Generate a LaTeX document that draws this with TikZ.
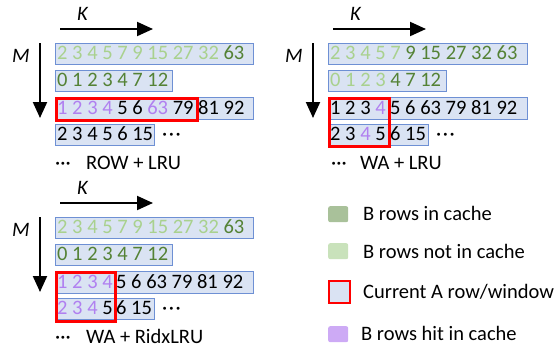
\documentclass[tikz,border=0pt]{standalone}
\usepackage{fontspec}
\setmainfont{Carlito}
\usetikzlibrary{arrows.meta}
\definecolor{dg}{RGB}{84,130,53}
\definecolor{lg}{RGB}{169,209,142}
\definecolor{pu}{RGB}{176,128,240}
\definecolor{boxfill}{RGB}{218,227,243}
\definecolor{boxline}{RGB}{110,144,212}
\definecolor{swdg}{RGB}{169,193,154}
\definecolor{swlg}{RGB}{201,226,187}
\definecolor{swpu}{RGB}{205,170,245}
\newcommand{\Lg}[1]{\textcolor{lg}{#1}}
\newcommand{\Dg}[1]{\textcolor{dg}{#1}}
\newcommand{\Pu}[1]{\textcolor{pu}{#1}}
\newcommand{\rowdots}{\textperiodcentered\kern1.5pt\textperiodcentered\kern1.5pt\textperiodcentered}
\newcommand{\labdots}{\textperiodcentered\textperiodcentered\textperiodcentered}
\tikzset{
  rowbox/.style={draw=boxline, fill=boxfill, line width=1.2pt, inner sep=0, anchor=north west},
  winbox/.style={draw=red, line width=2.7pt, inner sep=0, anchor=north west},
  txt/.style={anchor=base west, inner sep=0},
  axis/.style={line width=2pt, -{Triangle[length=16pt,width=14pt]}},
  swatch/.style={rounded corners=2pt, inner sep=0, anchor=north west, minimum width=20pt, minimum height=16pt}
}
\begin{document}
\begin{tikzpicture}[x=1pt,y=-1pt,font=\fontsize{20.5}{24}\selectfont]
\useasboundingbox (0,0) rectangle (558,349);

% ---------- Panel 1: ROW + LRU ----------
\node[txt,font=\fontsize{20.5}{24}\selectfont\itshape] (k1) at (77,20.5) {K};
\node[txt,font=\fontsize{20.5}{24}\selectfont\itshape] (m1) at (12,62.5) {M};
\coordinate (k1s) at (60,29); \coordinate (k1e) at (153,29);
\coordinate (m1s) at (40,43); \coordinate (m1e) at (40,118);
\draw[axis] (k1s) -- (k1e);
\draw[axis] (m1s) -- (m1e);
\node[rowbox,minimum width=198pt,minimum height=21pt] (a1r1) at (55,43) {};
\node[rowbox,minimum width=117pt,minimum height=21pt] (a1r2) at (55,70) {};
\node[rowbox,minimum width=198pt,minimum height=22pt] (a1r3) at (55,97) {};
\node[rowbox,minimum width=99pt,minimum height=21pt] (a1r4) at (55,124) {};
\node[winbox,minimum width=141pt,minimum height=22pt] (w1) at (55,97) {};
\node[txt] (t1r1) at (57,59.8) {\Lg{2 3 4 5 7 9 15 27 32} \Dg{63}};
\node[txt] (t1r2) at (57,86.8) {\Dg{0 1 2 3 4 7 12}};
\node[txt] (t1r3a) at (57,114.3) {\Pu{1 2 3 4} 5 6 \Pu{63} 79};
\node[txt] (t1r3b) at (198,114.3) {81 92};
\node[txt] (t1r4) at (57,140.8) {2 3 4 5 6 15};
\node[txt] (d1r4) at (162,140.8) {\rowdots};
\node[txt] (d1l) at (55,169.5) {\labdots};
\node[txt] (l1) at (86,169.5) {ROW + LRU};

% ---------- Panel 2: WA + LRU ----------
\node[txt,font=\fontsize{20.5}{24}\selectfont\itshape] (k2) at (350,20.5) {K};
\node[txt,font=\fontsize{20.5}{24}\selectfont\itshape] (m2) at (285,62.5) {M};
\coordinate (k2s) at (333,29); \coordinate (k2e) at (426,29);
\coordinate (m2s) at (313,43); \coordinate (m2e) at (313,118);
\draw[axis] (k2s) -- (k2e);
\draw[axis] (m2s) -- (m2e);
\node[rowbox,minimum width=199pt,minimum height=21pt] (a2r1) at (328,43) {};
\node[rowbox,minimum width=118pt,minimum height=21pt] (a2r2) at (328,70) {};
\node[rowbox,minimum width=199pt,minimum height=22pt] (a2r3) at (328,97) {};
\node[rowbox,minimum width=100pt,minimum height=21pt] (a2r4) at (328,124) {};
\node[winbox,minimum width=60pt,minimum height=48pt] (w2) at (328,97) {};
\node[txt] (t2r1) at (330,59.8) {\Lg{2 3 4 5 7} \Dg{9 15 27 32 63}};
\node[txt] (t2r2) at (330,86.8) {\Lg{0 1 2 3} \Dg{4 7 12}};
\node[txt] (t2r3a) at (330,114.3) {1 2 3 \Pu{4}};
\node[txt] (t2r3b) at (390,114.3) {5 6 63 79 81 92};
\node[txt] (t2r4a) at (330,140.8) {2 3 \Pu{4} 5};
\node[txt] (t2r4b) at (390,140.8) {6 15};
\node[txt] (d2r4) at (436,140.8) {\rowdots};
\node[txt] (d2l) at (331,169.5) {\labdots};
\node[txt] (l2) at (360,169.5) {WA + LRU};

% ---------- Panel 3: WA + RidxLRU ----------
\node[txt,font=\fontsize{20.5}{24}\selectfont\itshape] (k3) at (77,194.5) {K};
\node[txt,font=\fontsize{20.5}{24}\selectfont\itshape] (m3) at (12,236.5) {M};
\coordinate (k3s) at (60,203); \coordinate (k3e) at (153,203);
\coordinate (m3s) at (40,217); \coordinate (m3e) at (40,292);
\draw[axis] (k3s) -- (k3e);
\draw[axis] (m3s) -- (m3e);
\node[rowbox,minimum width=198pt,minimum height=21pt] (a3r1) at (55,217) {};
\node[rowbox,minimum width=117pt,minimum height=21pt] (a3r2) at (55,244) {};
\node[rowbox,minimum width=198pt,minimum height=22pt] (a3r3) at (55,271) {};
\node[rowbox,minimum width=99pt,minimum height=21pt] (a3r4) at (55,298) {};
\node[winbox,minimum width=59pt,minimum height=49pt] (w3) at (55,271) {};
\node[txt] (t3r1) at (57,233.8) {\Lg{2 3 4 5 7 9 15 27 32} \Dg{63}};
\node[txt] (t3r2) at (57,260.8) {\Dg{0 1 2 3 4 7 12}};
\node[txt] (t3r3a) at (57,288.3) {\Pu{1 2 3 4}};
\node[txt] (t3r3b) at (116,288.3) {5 6 63 79 81 92};
\node[txt] (t3r4a) at (57,314.8) {\Pu{2 3 4} 5};
\node[txt] (t3r4b) at (116,314.8) {6 15};
\node[txt] (d3r4) at (162,314.8) {\rowdots};
\node[txt] (d3l) at (55,343.5) {\labdots};
\node[txt] (l3) at (86,343.5) {WA + RidxLRU};

% ---------- Legend ----------
\node[swatch,fill=swdg] (s1) at (328,206) {};
\node[swatch,fill=swlg] (s2) at (328,243) {};
\node[swatch,fill=boxfill,draw=red,line width=2pt,rounded corners=0pt,minimum width=21pt,minimum height=22pt] (s3) at (328,280) {};
\node[swatch,fill=swpu] (s4) at (328,326) {};
\node[txt] (g1) at (363,220.5) {B rows in cache};
\node[txt] (g2) at (363,258.5) {B rows not in cache};
\node[txt] (g3) at (363,298) {Current A row/window};
\node[txt] (g4) at (361,340.5) {B rows hit in cache};
\end{tikzpicture}
\end{document}
